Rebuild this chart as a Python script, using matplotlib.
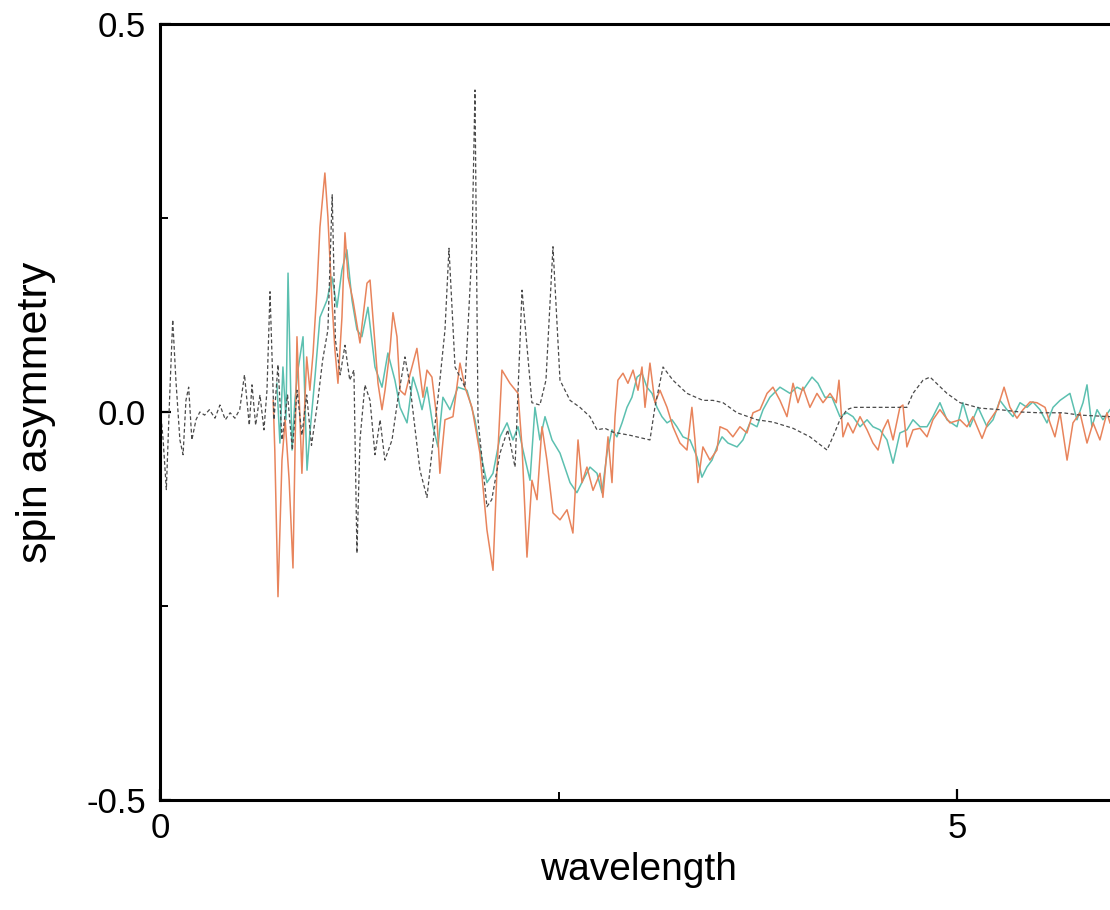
import numpy as np
import matplotlib
matplotlib.use("Agg")
import matplotlib.pyplot as plt
from matplotlib.ticker import FixedLocator

# reference (dashed) curve
ref_x = [0.00, 0.02, 0.04, 0.06, 0.08, 0.10, 0.125, 0.145, 0.163, 0.18, 0.20, 0.226,
         0.25, 0.28, 0.31, 0.345, 0.376, 0.41, 0.44, 0.47, 0.50, 0.53, 0.56, 0.577,
         0.60, 0.627, 0.652, 0.671, 0.69, 0.715, 0.74, 0.765, 0.80, 0.83, 0.86, 0.89,
         0.92, 0.95, 0.99, 1.02, 1.053, 1.08, 1.10, 1.13, 1.16, 1.19, 1.216, 1.235,
         1.254, 1.285, 1.317, 1.348, 1.38, 1.41, 1.455, 1.49, 1.536, 1.567, 1.60, 1.63,
         1.674, 1.71, 1.755, 1.787, 1.812, 1.85, 1.912, 1.956, 1.975, 1.994, 2.05, 2.08,
         2.132, 2.18, 2.226, 2.27, 2.332, 2.382, 2.42, 2.464, 2.508, 2.571, 2.633, 2.696,
         2.74, 2.79, 2.84, 2.947, 3.072, 3.103, 3.154, 3.216, 3.304, 3.404, 3.467, 3.53,
         3.618, 3.743, 3.843, 3.969, 4.075, 4.182, 4.219, 4.263, 4.307, 4.345, 4.683,
         4.721, 4.784, 4.828, 4.934, 5.016, 5.14, 5.266, 5.392, 5.517, 5.66, 5.768, 5.956]
ref_y = [0.009, -0.036, -0.10, 0.015, 0.119, 0.041, -0.036, -0.055, 0.015, 0.032, -0.036, -0.010,
         0.0, -0.004, 0.003, -0.008, 0.009, -0.010, -0.001, -0.008, 0.003, 0.048, -0.017, 0.035,
         -0.017, 0.022, -0.023, 0.028, 0.155, -0.010, 0.061, -0.036, 0.022, -0.049, 0.028, -0.030,
         0.022, -0.043, 0.015, 0.067, 0.106, 0.280, 0.093, 0.048, 0.086, 0.041, 0.054, -0.182,
         -0.036, 0.035, 0.015, -0.055, -0.010, -0.062, -0.036, 0.015, 0.071, 0.035, -0.023, -0.075,
         -0.110, -0.043, 0.041, 0.106, 0.211, 0.058, 0.032, 0.209, 0.415, -0.010, -0.122, -0.113,
         -0.053, -0.023, -0.071, 0.157, 0.012, 0.009, 0.041, 0.213, 0.041, 0.015, 0.006, -0.006,
         -0.023, -0.021, -0.026, -0.030, -0.036, 0.006, 0.058, 0.041, 0.024, 0.015, 0.015, 0.012,
         -0.001, -0.010, -0.013, -0.021, -0.032, -0.049, -0.032, -0.010, 0.003, 0.006, 0.006,
         0.024, 0.041, 0.045, 0.024, 0.012, 0.005, 0.003, 0.0, -0.001, -0.001, -0.004, -0.006]

# orange curve
org_x = [0.71, 0.72, 0.74, 0.765, 0.785, 0.81, 0.834, 0.859, 0.89, 0.92, 0.94, 0.96,
         0.984, 1.003, 1.034, 1.053, 1.078, 1.097, 1.116, 1.141, 1.16, 1.179, 1.21, 1.254,
         1.298, 1.317, 1.335, 1.367, 1.392, 1.411, 1.442, 1.461, 1.486, 1.505, 1.536, 1.567,
         1.611, 1.649, 1.674, 1.705, 1.737, 1.755, 1.787, 1.837, 1.881, 1.912, 1.956, 2.006,
         2.05, 2.088, 2.113, 2.144, 2.194, 2.245, 2.27, 2.301, 2.332, 2.364, 2.395, 2.426,
         2.464, 2.508, 2.552, 2.589, 2.621, 2.646, 2.677, 2.715, 2.759, 2.777, 2.809, 2.834,
         2.853, 2.871, 2.903, 2.934, 2.966, 2.997, 3.022, 3.041, 3.072, 3.103, 3.135, 3.179,
         3.216, 3.26, 3.304, 3.335, 3.354, 3.373, 3.404, 3.448, 3.492, 3.511, 3.555, 3.592,
         3.636, 3.68, 3.718, 3.762, 3.806, 3.843, 3.887, 3.931, 3.969, 4.0, 4.031, 4.075,
         4.119, 4.157, 4.201, 4.24, 4.257, 4.282, 4.313, 4.345, 4.389, 4.433, 4.47, 4.502,
         4.533, 4.564, 4.596, 4.639, 4.658, 4.683, 4.721, 4.765, 4.809, 4.846, 4.89, 4.953,
         5.016, 5.06, 5.097, 5.154, 5.191, 5.248, 5.292, 5.329, 5.373, 5.411, 5.455, 5.498,
         5.549, 5.58, 5.611, 5.643, 5.687, 5.724, 5.768, 5.812, 5.85, 5.893, 5.937, 5.956]
org_y = [0.015, -0.049, -0.238, -0.062, -0.010, -0.088, -0.201, 0.097, -0.079, 0.071, 0.028, 0.076,
         0.157, 0.238, 0.308, 0.251, 0.144, 0.080, 0.037, 0.122, 0.231, 0.174, 0.144, 0.089,
         0.166, 0.170, 0.122, 0.037, 0.003, 0.028, 0.080, 0.128, 0.097, 0.028, 0.022, 0.048,
         0.082, 0.019, 0.054, 0.045, -0.010, -0.079, -0.010, -0.006, 0.063, 0.032, 0.006, -0.053,
         -0.152, -0.204, -0.075, 0.054, 0.037, 0.024, -0.045, -0.187, -0.088, -0.113, -0.019, -0.062,
         -0.130, -0.139, -0.126, -0.156, -0.036, -0.091, -0.071, -0.101, -0.079, -0.110, -0.032, -0.091,
         -0.006, 0.041, 0.050, 0.037, 0.054, 0.028, 0.058, 0.006, 0.063, 0.012, 0.028, 0.006,
         -0.019, -0.040, -0.049, 0.006, -0.036, -0.091, -0.045, -0.062, -0.049, -0.019, -0.023, -0.032,
         -0.019, -0.027, -0.001, 0.003, 0.024, 0.032, 0.015, -0.006, 0.037, 0.012, 0.032, 0.006,
         0.024, 0.012, 0.024, 0.012, 0.041, -0.032, -0.014, -0.027, -0.006, -0.023, -0.040, -0.049,
         -0.023, -0.010, -0.036, 0.006, 0.009, -0.045, -0.023, -0.021, -0.032, -0.010, 0.003, -0.014,
         -0.010, -0.019, -0.006, -0.034, -0.014, 0.003, 0.032, 0.006, -0.008, 0.003, 0.013, 0.012,
         0.006, -0.014, -0.032, -0.001, -0.062, -0.014, -0.001, -0.040, -0.014, -0.036, -0.001, -0.014]

# teal curve
teal_x = [0.733, 0.752, 0.771, 0.79, 0.803, 0.828, 0.846, 0.865, 0.897, 0.922, 0.94, 0.972,
          1.003, 1.047, 1.078, 1.11, 1.141, 1.172, 1.204, 1.235, 1.266, 1.304, 1.348, 1.392,
          1.429, 1.473, 1.505, 1.549, 1.586, 1.618, 1.643, 1.674, 1.712, 1.743, 1.774, 1.818,
          1.868, 1.925, 1.975, 2.019, 2.05, 2.088, 2.132, 2.176, 2.213, 2.245, 2.276, 2.32,
          2.351, 2.382, 2.414, 2.458, 2.508, 2.571, 2.614, 2.652, 2.696, 2.74, 2.771, 2.803,
          2.834, 2.865, 2.897, 2.928, 2.959, 2.991, 3.022, 3.053, 3.085, 3.116, 3.147, 3.179,
          3.21, 3.241, 3.279, 3.323, 3.367, 3.398, 3.429, 3.461, 3.492, 3.524, 3.561, 3.618,
          3.655, 3.699, 3.743, 3.781, 3.824, 3.887, 3.95, 3.994, 4.031, 4.088, 4.125, 4.169,
          4.213, 4.263, 4.307, 4.345, 4.389, 4.433, 4.47, 4.514, 4.558, 4.596, 4.639, 4.683,
          4.721, 4.765, 4.809, 4.846, 4.89, 4.934, 4.997, 5.034, 5.078, 5.129, 5.185, 5.223,
          5.266, 5.31, 5.348, 5.392, 5.436, 5.473, 5.517, 5.561, 5.599, 5.643, 5.705, 5.749,
          5.787, 5.812, 5.843, 5.875, 5.912, 5.956]
teal_y = [0.037, -0.040, 0.058, -0.010, 0.179, -0.049, 0.015, 0.054, 0.097, -0.075, -0.027, 0.045,
          0.122, 0.144, 0.174, 0.135, 0.183, 0.209, 0.144, 0.106, 0.097, 0.135, 0.058, 0.032,
          0.076, 0.041, 0.006, -0.014, 0.045, 0.024, 0.003, 0.032, -0.019, -0.045, 0.019, 0.003,
          0.032, 0.028, -0.010, -0.062, -0.091, -0.079, -0.032, -0.014, -0.036, -0.019, -0.049, -0.088,
          0.006, -0.036, -0.006, -0.036, -0.053, -0.091, -0.104, -0.088, -0.071, -0.079, -0.104, -0.053,
          -0.023, -0.032, -0.014, 0.006, 0.019, 0.045, 0.050, 0.032, 0.024, 0.006, -0.006, -0.014,
          -0.010, -0.019, -0.032, -0.036, -0.058, -0.084, -0.071, -0.062, -0.045, -0.032, -0.040, -0.045,
          -0.036, -0.014, -0.019, 0.003, 0.019, 0.032, 0.024, 0.032, 0.028, 0.045, 0.037, 0.019,
          0.019, -0.006, -0.001, -0.006, -0.019, -0.010, -0.019, -0.023, -0.036, -0.066, -0.027, -0.023,
          -0.010, -0.019, -0.019, -0.006, 0.012, -0.010, -0.019, 0.012, -0.019, 0.006, -0.019, -0.010,
          0.015, 0.003, -0.006, 0.012, 0.006, 0.013, 0.003, -0.014, 0.006, 0.015, 0.024, -0.010,
          0.012, 0.035, -0.019, 0.003, -0.010, 0.003]

y_ticks = [-0.5, 0.0, 0.5]
y_ticklabels = ["-0.5", "0.0", "0.5"]
x_ticks = [0, 5]
x_ticklabels = ["0", "5"]

plt.rcParams['font.family'] = ['Liberation Sans', 'DejaVu Sans']

fig = plt.figure(figsize=(11.1, 9.1), dpi=100, facecolor='white')
axes = fig.add_axes([0.1441, 0.1209, 0.8622, 0.8527])

axes.plot(teal_x, teal_y, color='#5cc0b0', lw=1.1)
axes.plot(org_x, org_y, color='#e8845c', lw=1.1)
axes.plot(ref_x, ref_y, color='#4a4a4a', lw=0.9, linestyle=(0, (3, 2)))

axes.set_xlim(0, 6)
axes.set_ylim(-0.5, 0.5)

for side in ['left', 'bottom', 'top']:
    axes.spines[side].set_linewidth(2.2)
axes.spines['right'].set_visible(False)

axes.yaxis.set_major_locator(FixedLocator(y_ticks))
axes.set_yticklabels(y_ticklabels)
axes.yaxis.set_minor_locator(FixedLocator([-0.25, 0.25]))
axes.xaxis.set_major_locator(FixedLocator(x_ticks))
axes.set_xticklabels(x_ticklabels)
axes.xaxis.set_minor_locator(FixedLocator([2.5]))

axes.tick_params(which='major', direction='in', length=8, width=1.6, labelsize=25, pad=10)
axes.tick_params(which='minor', direction='in', length=6, width=1.4)
axes.tick_params(axis='x', which='major', pad=9)

axes.set_xlabel('wavelength', fontsize=28, labelpad=5)
axes.set_ylabel('spin asymmetry', fontsize=31, labelpad=22)

fig.savefig('out.png', dpi=100)
